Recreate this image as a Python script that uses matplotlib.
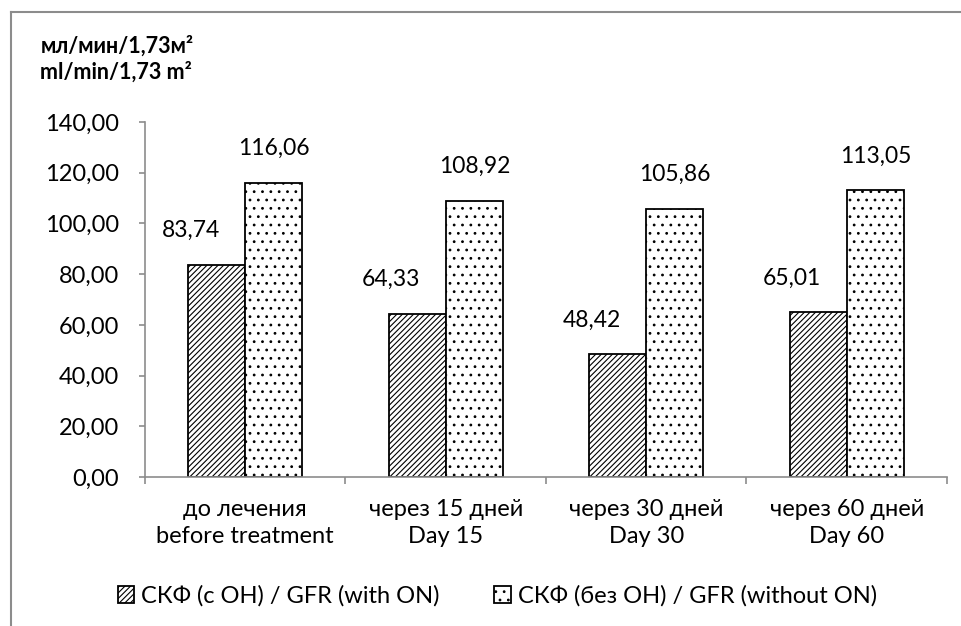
import matplotlib
matplotlib.use("Agg")
from matplotlib import pyplot as plt
from matplotlib.lines import Line2D
import numpy as np

### Data ###
categories = ["до лечения\nbefore treatment", "через 15 дней\nDay 15",
              "через 30 дней\nDay 30", "через 60 дней\nDay 60"]
gfr_with_on = [83.74, 64.33, 48.42, 65.01]
gfr_without_on = [116.06, 108.92, 105.86, 113.05]
series_names = ["СКФ (с ОН) / GFR (with ON)", "СКФ (без ОН) / GFR (without ON)"]
y_ticks = [0, 20, 40, 60, 80, 100, 120, 140]
##################

plt.rcParams['font.family'] = ['Lato', 'Open Sans', 'DejaVu Sans']
plt.rcParams['hatch.linewidth'] = 0.8
GRAY = '#8c8c8c'
FS = 17

fig = plt.figure(figsize=(9.62, 6.26), dpi=100)
ax = fig.add_axes([0.1507, 0.238, 0.8337, 0.567])

x = np.arange(len(categories))
w = 0.285
b1 = ax.bar(x - w/2, gfr_with_on, w, color='white', edgecolor='black',
            linewidth=1.3, hatch='//////', label=series_names[0])
b2 = ax.bar(x + w/2, gfr_without_on, w, color='white', edgecolor='black',
            linewidth=1.3, hatch='..', label=series_names[1])

# value labels (hatched ones sit a bit to the left, as in the original)
for xi, v in zip(x, gfr_with_on):
    ax.text(xi - w/2 - 0.13, v + 13.5, f"{v:.2f}".replace('.', ','),
            ha='center', va='center', fontsize=16.5)
for xi, v in zip(x, gfr_without_on):
    ax.text(xi + w/2, v + 13.5, f"{v:.2f}".replace('.', ','),
            ha='center', va='center', fontsize=16.5)

ax.set_xlim(-0.5, len(categories) - 0.5)
ax.set_ylim(0, 140)
ax.set_yticks(y_ticks)
ax.set_yticklabels([f"{t:.2f}".replace('.', ',') for t in y_ticks], fontsize=FS)
ax.set_xticks(x)
ax.set_xticklabels(categories, fontsize=FS, linespacing=1.35)
ax.set_xticks(np.arange(len(categories) + 1) - 0.5, minor=True)
ax.tick_params(axis='x', which='major', length=0, pad=16)
ax.tick_params(axis='x', which='minor', length=5, color=GRAY, width=1.2)
ax.tick_params(axis='y', length=4.5, color=GRAY, width=1.2, pad=14)

for s in ['top', 'right']:
    ax.spines[s].set_visible(False)
for s in ['left', 'bottom']:
    ax.spines[s].set_color(GRAY)
    ax.spines[s].set_linewidth(1.2)

fig.text(0.042, 0.906, "мл/мин/1,73м²\nml/min/1,73 m²", fontsize=15.5,
         fontweight='bold', ha='left', va='center', linespacing=1.3)

fig.legend(handles=[b1, b2], loc='center', bbox_to_anchor=(0.517, 0.048),
           ncol=2, frameon=False, fontsize=FS, handlelength=0.7,
           handleheight=0.7, handletextpad=0.3, columnspacing=2.3)

# outer frame (top and left edges only are visible)
fig.add_artist(Line2D([0.0114, 0.0114], [0, 0.981], transform=fig.transFigure,
                      color=GRAY, linewidth=1.5))
fig.add_artist(Line2D([0.0114, 1.0], [0.981, 0.981], transform=fig.transFigure,
                      color=GRAY, linewidth=1.5))

fig.savefig("out.png", dpi=100)
